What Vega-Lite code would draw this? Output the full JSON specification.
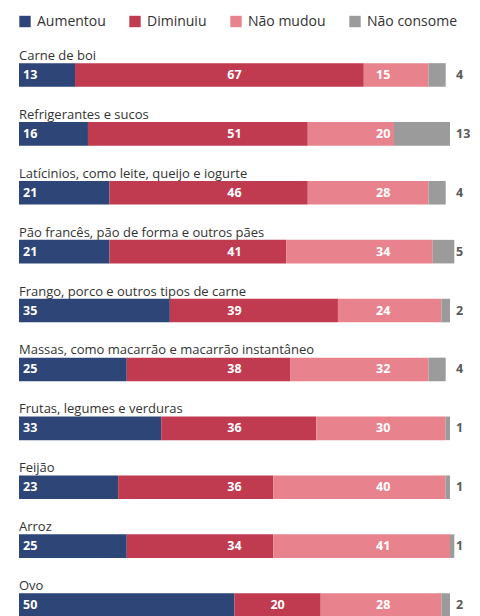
{
  "$schema": "https://vega.github.io/schema/vega-lite/v6.json",
  "width": 431,
  "height": 589,
  "autosize": "none",
  "padding": {"left": 19, "top": 45.5, "right": 30, "bottom": 0},
  "background": "white",
  "config": {"view": {"stroke": null}, "font": "Open Sans"},
  "data": {
    "values": [
      {"cat": "Carne de boi", "resp": "Aumentou", "ord": 1, "v": 13},
      {"cat": "Carne de boi", "resp": "Diminuiu", "ord": 2, "v": 67},
      {"cat": "Carne de boi", "resp": "Não mudou", "ord": 3, "v": 15},
      {"cat": "Carne de boi", "resp": "Não consome", "ord": 4, "v": 4},
      {"cat": "Refrigerantes e sucos", "resp": "Aumentou", "ord": 1, "v": 16},
      {"cat": "Refrigerantes e sucos", "resp": "Diminuiu", "ord": 2, "v": 51},
      {"cat": "Refrigerantes e sucos", "resp": "Não mudou", "ord": 3, "v": 20},
      {"cat": "Refrigerantes e sucos", "resp": "Não consome", "ord": 4, "v": 13},
      {"cat": "Latícinios, como leite, queijo e iogurte", "resp": "Aumentou", "ord": 1, "v": 21},
      {"cat": "Latícinios, como leite, queijo e iogurte", "resp": "Diminuiu", "ord": 2, "v": 46},
      {"cat": "Latícinios, como leite, queijo e iogurte", "resp": "Não mudou", "ord": 3, "v": 28},
      {"cat": "Latícinios, como leite, queijo e iogurte", "resp": "Não consome", "ord": 4, "v": 4},
      {"cat": "Pão francês, pão de forma e outros pães", "resp": "Aumentou", "ord": 1, "v": 21},
      {"cat": "Pão francês, pão de forma e outros pães", "resp": "Diminuiu", "ord": 2, "v": 41},
      {"cat": "Pão francês, pão de forma e outros pães", "resp": "Não mudou", "ord": 3, "v": 34},
      {"cat": "Pão francês, pão de forma e outros pães", "resp": "Não consome", "ord": 4, "v": 5},
      {"cat": "Frango, porco e outros tipos de carne", "resp": "Aumentou", "ord": 1, "v": 35},
      {"cat": "Frango, porco e outros tipos de carne", "resp": "Diminuiu", "ord": 2, "v": 39},
      {"cat": "Frango, porco e outros tipos de carne", "resp": "Não mudou", "ord": 3, "v": 24},
      {"cat": "Frango, porco e outros tipos de carne", "resp": "Não consome", "ord": 4, "v": 2},
      {"cat": "Massas, como macarrão e macarrão instantâneo", "resp": "Aumentou", "ord": 1, "v": 25},
      {"cat": "Massas, como macarrão e macarrão instantâneo", "resp": "Diminuiu", "ord": 2, "v": 38},
      {"cat": "Massas, como macarrão e macarrão instantâneo", "resp": "Não mudou", "ord": 3, "v": 32},
      {"cat": "Massas, como macarrão e macarrão instantâneo", "resp": "Não consome", "ord": 4, "v": 4},
      {"cat": "Frutas, legumes e verduras", "resp": "Aumentou", "ord": 1, "v": 33},
      {"cat": "Frutas, legumes e verduras", "resp": "Diminuiu", "ord": 2, "v": 36},
      {"cat": "Frutas, legumes e verduras", "resp": "Não mudou", "ord": 3, "v": 30},
      {"cat": "Frutas, legumes e verduras", "resp": "Não consome", "ord": 4, "v": 1},
      {"cat": "Feijão", "resp": "Aumentou", "ord": 1, "v": 23},
      {"cat": "Feijão", "resp": "Diminuiu", "ord": 2, "v": 36},
      {"cat": "Feijão", "resp": "Não mudou", "ord": 3, "v": 40},
      {"cat": "Feijão", "resp": "Não consome", "ord": 4, "v": 1},
      {"cat": "Arroz", "resp": "Aumentou", "ord": 1, "v": 25},
      {"cat": "Arroz", "resp": "Diminuiu", "ord": 2, "v": 34},
      {"cat": "Arroz", "resp": "Não mudou", "ord": 3, "v": 41},
      {"cat": "Arroz", "resp": "Não consome", "ord": 4, "v": 1},
      {"cat": "Ovo", "resp": "Aumentou", "ord": 1, "v": 50},
      {"cat": "Ovo", "resp": "Diminuiu", "ord": 2, "v": 20},
      {"cat": "Ovo", "resp": "Não mudou", "ord": 3, "v": 28},
      {"cat": "Ovo", "resp": "Não consome", "ord": 4, "v": 2}
    ]
  },
  "transform": [
    {"stack": "v", "groupby": ["cat"], "sort": [{"field": "ord"}], "as": ["v0", "v1"]},
    {"calculate": "datum.resp === 'Aumentou' ? datum.v0 : datum.resp === 'Diminuiu' ? ((datum.v0 < 50 && datum.v1 > 50) ? 50 : (datum.v0 + datum.v1) / 2) : datum.resp === 'Não mudou' ? 84.5 : 100", "as": "lx"}
  ],
  "encoding": {
    "y": {
      "field": "cat", "type": "nominal", "axis": null,
      "sort": ["Carne de boi", "Refrigerantes e sucos", "Latícinios, como leite, queijo e iogurte", "Pão francês, pão de forma e outros pães", "Frango, porco e outros tipos de carne", "Massas, como macarrão e macarrão instantâneo", "Frutas, legumes e verduras", "Feijão", "Arroz", "Ovo"],
      "scale": {"paddingInner": 0.6, "paddingOuter": 0.3}
    }
  },
  "layer": [
    {
      "mark": {"type": "bar"},
      "encoding": {
        "x": {"field": "v0", "type": "quantitative", "axis": null, "scale": {"domain": [0, 100], "nice": false, "zero": true}},
        "x2": {"field": "v1"},
        "color": {
          "field": "resp", "type": "nominal",
          "scale": {"domain": ["Aumentou", "Diminuiu", "Não mudou", "Não consome"], "range": ["#2e4577", "#c03a50", "#e8838e", "#9b9b9b"]},
          "legend": {
            "orient": "none", "direction": "horizontal", "legendX": -1, "legendY": -31,
            "title": null, "symbolType": "square", "symbolSize": 130, "symbolStrokeWidth": 0,
            "symbolOpacity": 1, "labelFontSize": 14, "labelColor": "#333333", "labelFont": "Open Sans",
            "columnPadding": 22, "labelOffset": 5
          }
        }
      }
    },
    {
      "transform": [{"filter": "datum.resp === 'Aumentou'"}],
      "mark": {"type": "text", "align": "left", "baseline": "middle", "dx": 4, "fontSize": 12.5, "fontWeight": "bold", "color": "white"},
      "encoding": {"x": {"field": "lx", "type": "quantitative"}, "text": {"field": "v", "type": "quantitative"}}
    },
    {
      "transform": [{"filter": "datum.resp === 'Diminuiu' || datum.resp === 'Não mudou'"}],
      "mark": {"type": "text", "align": "center", "baseline": "middle", "fontSize": 12.5, "fontWeight": "bold", "color": "white"},
      "encoding": {"x": {"field": "lx", "type": "quantitative"}, "text": {"field": "v", "type": "quantitative"}}
    },
    {
      "transform": [{"filter": "datum.resp === 'Não consome'"}],
      "mark": {"type": "text", "align": "left", "baseline": "middle", "dx": 6, "fontSize": 12.5, "fontWeight": "bold", "color": "#5a5a5a"},
      "encoding": {"x": {"field": "lx", "type": "quantitative"}, "text": {"field": "v", "type": "quantitative"}}
    },
    {
      "transform": [{"filter": "datum.resp === 'Aumentou'"}],
      "mark": {"type": "text", "align": "left", "baseline": "alphabetic", "dy": -15, "fontSize": 13, "color": "#333333"},
      "encoding": {"x": {"datum": 0}, "text": {"field": "cat", "type": "nominal"}}
    }
  ]
}
